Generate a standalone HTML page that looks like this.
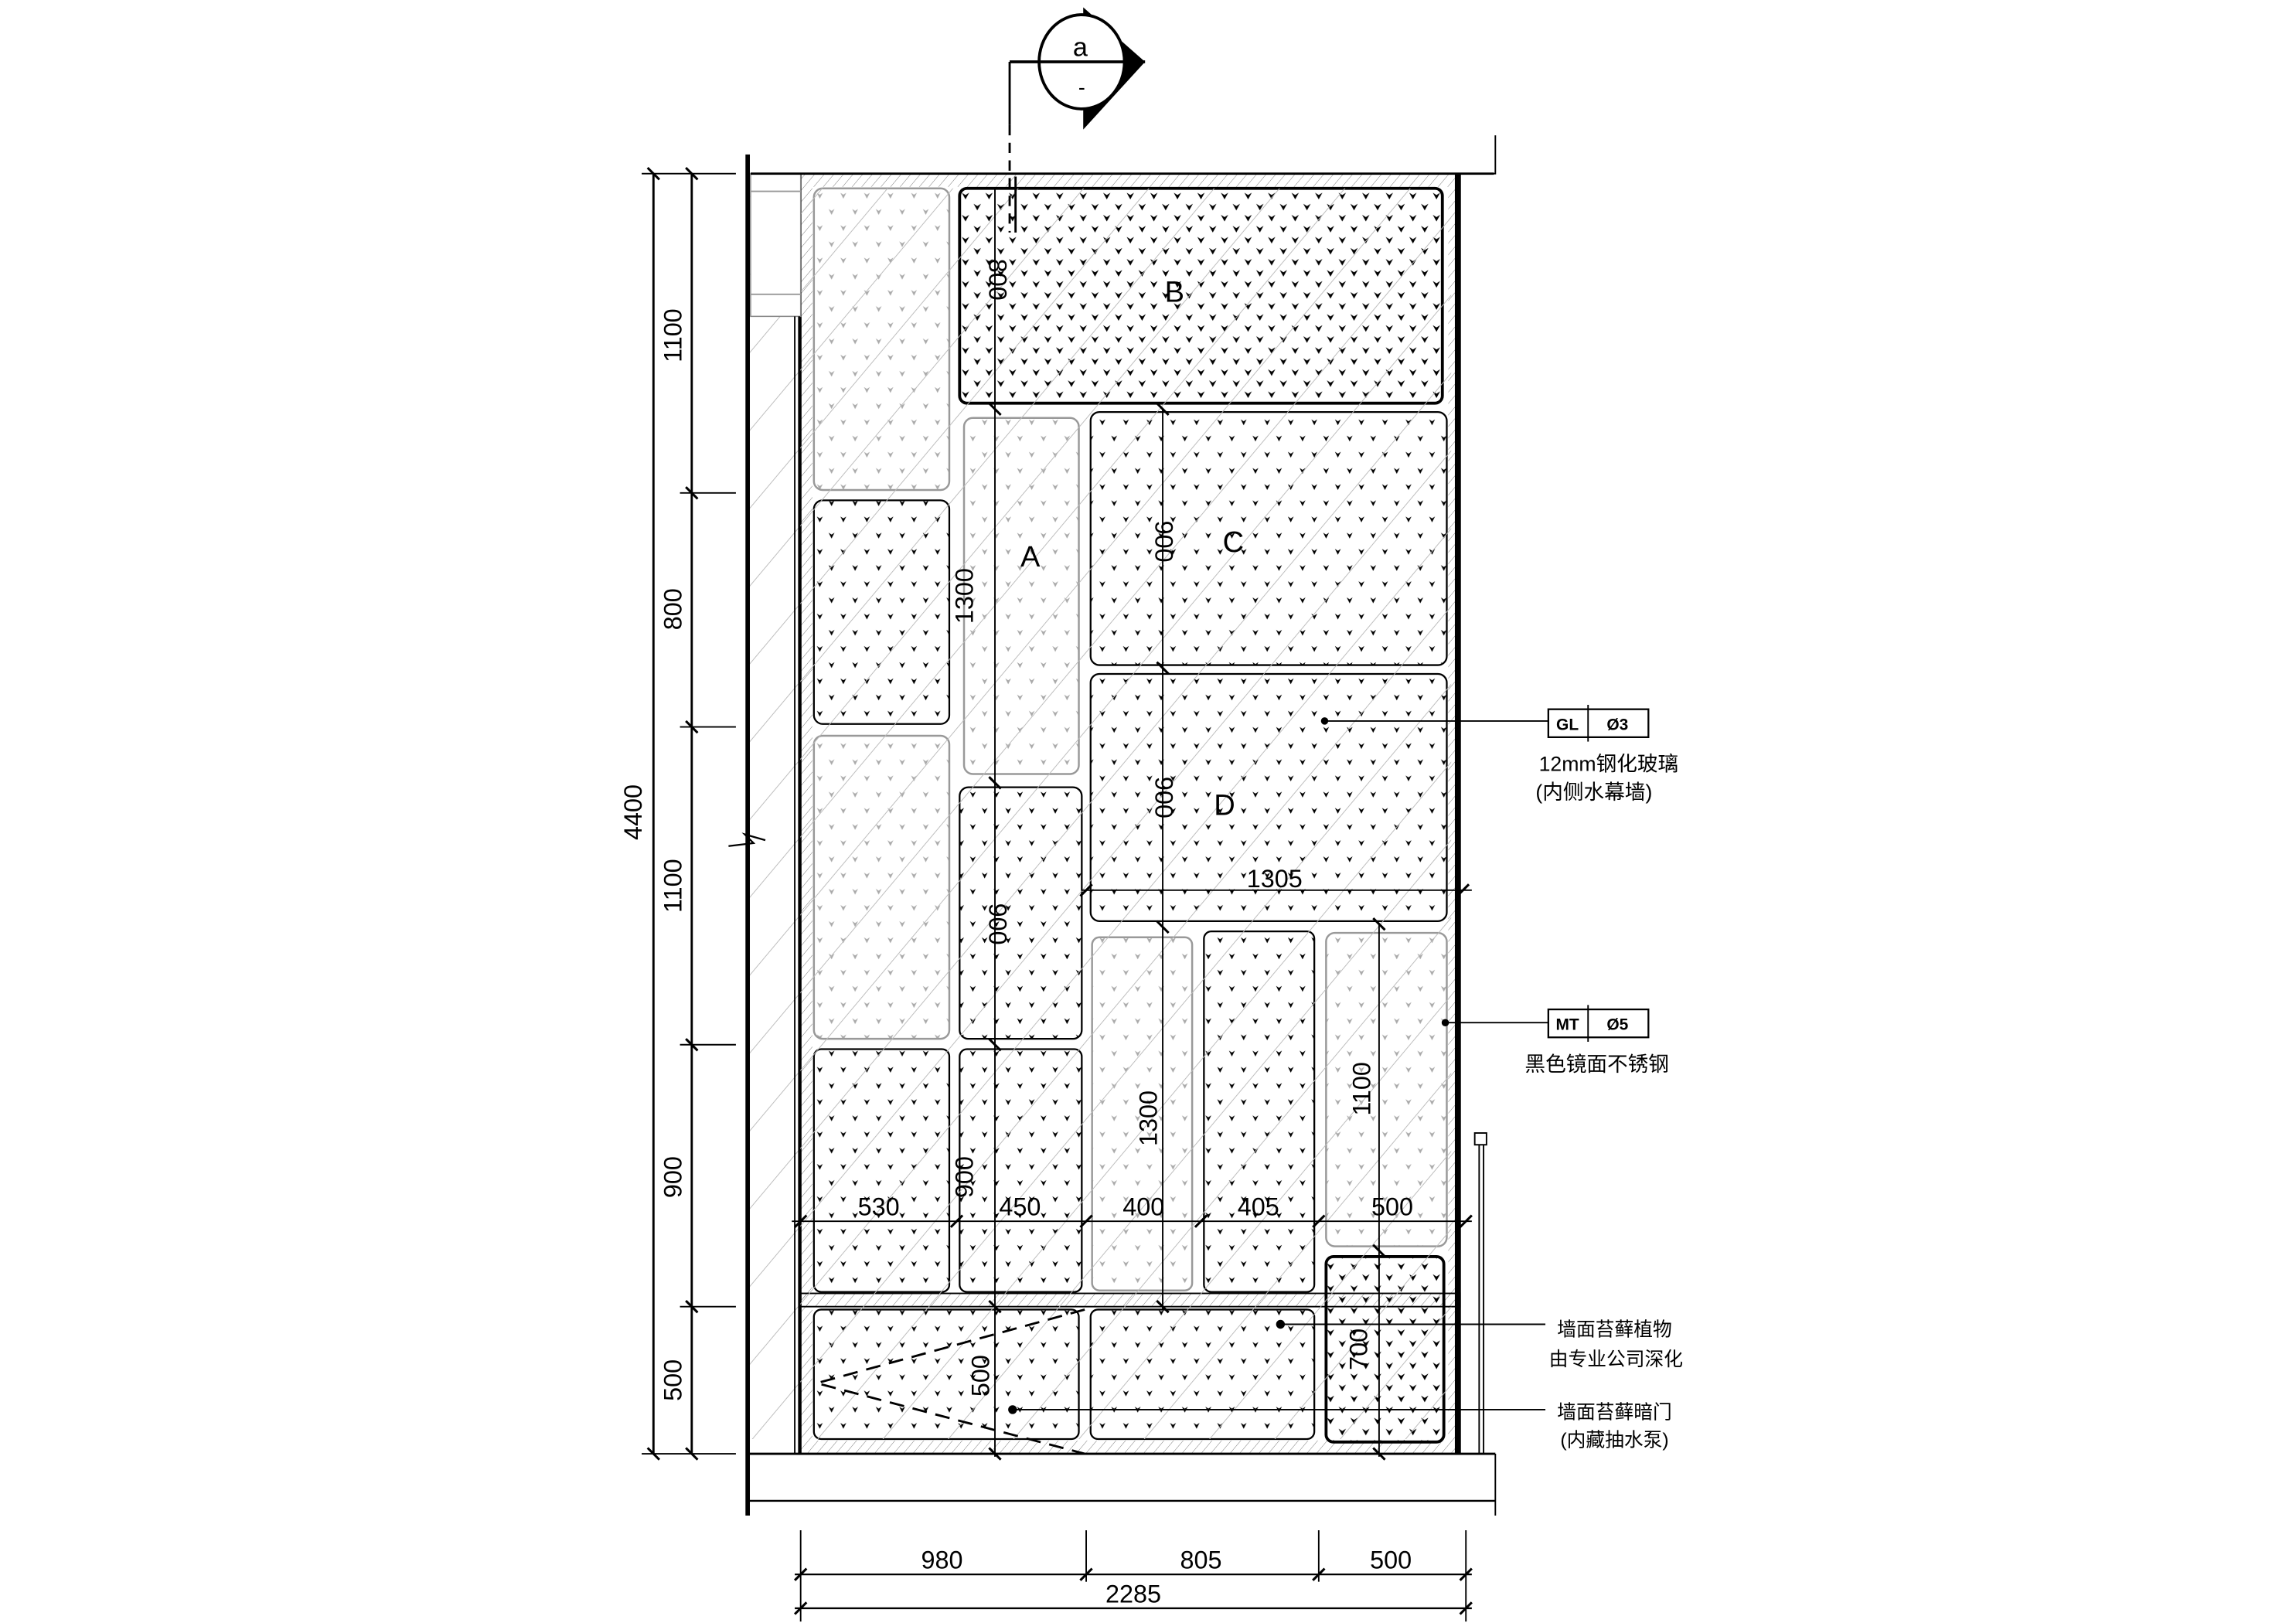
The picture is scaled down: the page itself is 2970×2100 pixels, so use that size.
<!DOCTYPE html>
<html><head><meta charset="utf-8"><style>
html,body{margin:0;padding:0;background:#fff;}
svg{display:block;}
text{font-family:"Liberation Sans","Noto Sans CJK SC",sans-serif;}
.d{font-size:17px;fill:#000;}
.c{font-family:"Liberation Serif","Noto Serif CJK SC",serif;font-size:14px;fill:#000;}
</style></head><body>
<svg width="2970" height="2100" viewBox="0 0 1560 1103" xmlns="http://www.w3.org/2000/svg">
<defs>
<pattern id="dk" width="16" height="22" patternUnits="userSpaceOnUse" x="553" y="128">
<path d="M2,3 l2,4 l2,-4 l-2,1.3z" fill="#000"/>
<path d="M10,14 l2,4 l2,-4 l-2,1.3z" fill="#000"/>
</pattern>
<pattern id="dk2" width="16" height="15" patternUnits="userSpaceOnUse" x="652" y="128">
<path d="M1.5,3 l2.5,4.5 l2.5,-4.5 l-2.5,1.5z" fill="#000"/>
<path d="M9.5,10.5 l2.5,4.5 l2.5,-4.5 l-2.5,1.5z" fill="#000"/>
</pattern>
<pattern id="lt" width="16" height="22" patternUnits="userSpaceOnUse" x="553" y="128">
<path d="M2,3 l2,4 l2,-4 l-2,1.3z" fill="#aaa"/>
<path d="M10,14 l2,4 l2,-4 l-2,1.3z" fill="#aaa"/>
</pattern>
<pattern id="hg" width="34" height="34" patternUnits="userSpaceOnUse" patternTransform="rotate(40)">
<line x1="0" y1="0" x2="0" y2="34" stroke="#bbb" stroke-width="1"/>
</pattern>
<pattern id="hb" width="5" height="5" patternUnits="userSpaceOnUse" patternTransform="rotate(40)">
<line x1="0" y1="0" x2="0" y2="5" stroke="#777" stroke-width="0.5"/>
</pattern>
</defs>

<rect x="544" y="118" width="448" height="870" fill="url(#hb)" stroke="#000" stroke-width="1.2"/>
<rect x="552" y="127" width="432" height="852" fill="#fff"/>
<rect x="544" y="879" width="448" height="9" fill="url(#hb)" stroke="#000" stroke-width="1"/>

<g stroke="#999" stroke-width="1.3">
<rect x="553" y="128" width="92" height="205" rx="6" fill="url(#lt)"/>
<rect x="553" y="500" width="92" height="206" rx="6" fill="url(#lt)"/>
<rect x="655" y="284" width="78" height="242" rx="6" fill="url(#lt)"/>
<rect x="742" y="637" width="68" height="240" rx="5" fill="url(#lt)"/>
<rect x="901" y="634" width="82" height="213" rx="6" fill="url(#lt)"/>
</g>
<g stroke="#000" stroke-width="1.2">
<rect x="553" y="340" width="92" height="152" rx="6" fill="url(#dk)"/>
<rect x="553" y="713" width="92" height="165" rx="5" fill="url(#dk)"/>
<rect x="652" y="128" width="328" height="146" rx="5" fill="url(#dk2)" stroke-width="2"/>
<rect x="652" y="535" width="83" height="171" rx="6" fill="url(#dk)"/>
<rect x="652" y="713" width="83" height="165" rx="5" fill="url(#dk)"/>
<rect x="741" y="280" width="242" height="172" rx="6" fill="url(#dk)"/>
<rect x="741" y="458" width="242" height="168" rx="6" fill="url(#dk)"/>
<rect x="818" y="633" width="75" height="245" rx="5" fill="url(#dk)"/>
<rect x="553" y="890" width="180" height="88" rx="5" fill="url(#dk)"/>
<rect x="741" y="890" width="152" height="88" rx="5" fill="url(#dk)"/>
<rect x="901" y="854" width="80" height="126" rx="5" fill="url(#dk2)" stroke-width="2"/>
</g>
<rect x="508" y="128" width="478" height="850" fill="url(#hg)"/>

<line x1="508" y1="105" x2="508" y2="1030" stroke="#000" stroke-width="3"/>
<rect x="510" y="118" width="34" height="97" fill="#fff" stroke="#888" stroke-width="0.8"/>
<line x1="510" y1="130" x2="544" y2="130" stroke="#999"/><line x1="510" y1="200" x2="544" y2="200" stroke="#999"/>
<line x1="540" y1="215" x2="540" y2="988" stroke="#000" stroke-width="1"/>
<line x1="543" y1="215" x2="543" y2="988" stroke="#000" stroke-width="1.5"/>
<path d="M495,575 L512,573 L506,567 L520,571" fill="none" stroke="#000" stroke-width="1.2"/>

<line x1="990" y1="118" x2="990" y2="988" stroke="#000" stroke-width="3"/>
<line x1="510" y1="118" x2="1015" y2="118" stroke="#000" stroke-width="1.5"/>
<path d="M1016,92 L1016,118 L1010,118" fill="none" stroke="#000" stroke-width="1"/>
<line x1="508" y1="988" x2="1016" y2="988" stroke="#000" stroke-width="1.5"/>
<line x1="508" y1="1020" x2="1016" y2="1020" stroke="#000" stroke-width="1.2"/>
<line x1="1016" y1="988" x2="1016" y2="1030" stroke="#000" stroke-width="1"/>

<path d="M737,890 L555,940 L737,988" fill="none" stroke="#000" stroke-width="1.5" stroke-dasharray="10,6"/>

<g stroke="#000" stroke-width="1">
<line x1="676" y1="128" x2="676" y2="990"/>
<line x1="790" y1="278" x2="790" y2="890"/>
<line x1="937" y1="628" x2="937" y2="990"/>
<line x1="538" y1="830" x2="1000" y2="830"/>
<line x1="735" y1="605" x2="1000" y2="605"/>
</g>
<g stroke="#000" stroke-width="1.6">
<path d="M540,834 l8,-8 M646,834 l8,-8 M734,834 l8,-8 M812,834 l8,-8 M892,834 l8,-8 M992,834 l8,-8"/>
<path d="M734,609 l8,-8 M990,609 l8,-8"/>
<path d="M672,274 l8,8 M672,528 l8,8 M672,706 l8,8 M672,884 l8,8 M672,984 l8,8"/>
<path d="M786,274 l8,8 M786,450 l8,8 M786,626 l8,8 M786,884 l8,8"/>
<path d="M933,624 l8,8 M933,846 l8,8 M933,984 l8,8"/>
</g>
<g class="d">
<text x="597" y="826" text-anchor="middle">530</text>
<text x="693" y="826" text-anchor="middle">450</text>
<text x="777" y="826" text-anchor="middle">400</text>
<text x="855" y="826" text-anchor="middle">405</text>
<text x="946" y="826" text-anchor="middle">500</text>
<text x="866" y="603" text-anchor="middle">1305</text>
<text transform="translate(672,190) rotate(90)" text-anchor="middle">800</text>
<text transform="translate(661,405) rotate(-90)" text-anchor="middle">1300</text>
<text transform="translate(672,628) rotate(90)" text-anchor="middle">900</text>
<text transform="translate(661,800) rotate(-90)" text-anchor="middle">900</text>
<text transform="translate(672,935) rotate(-90)" text-anchor="middle">500</text>
<text transform="translate(785,368) rotate(90)" text-anchor="middle">900</text>
<text transform="translate(785,542) rotate(90)" text-anchor="middle">900</text>
<text transform="translate(786,760) rotate(-90)" text-anchor="middle">1300</text>
<text transform="translate(931,740) rotate(-90)" text-anchor="middle">1100</text>
<text transform="translate(929,917) rotate(-90)" text-anchor="middle">700</text>
</g>
<g font-family="Liberation Serif,serif" font-size="20" fill="#000" text-anchor="middle">
<text x="700" y="385">A</text><text x="798" y="205">B</text><text x="838" y="375">C</text><text x="832" y="554">D</text>
</g>

<g stroke="#000">
<line x1="444" y1="118" x2="444" y2="988" stroke-width="1.5"/>
<line x1="470" y1="118" x2="470" y2="988" stroke-width="1.5"/>
<g stroke-width="1">
<line x1="436" y1="118" x2="500" y2="118"/><line x1="436" y1="988" x2="500" y2="988"/>
<line x1="462" y1="335" x2="500" y2="335"/><line x1="462" y1="494" x2="500" y2="494"/>
<line x1="462" y1="710" x2="500" y2="710"/><line x1="462" y1="888" x2="500" y2="888"/>
</g>
<path d="M440,114 l8,8 M466,114 l8,8 M466,331 l8,8 M466,490 l8,8 M466,706 l8,8 M466,884 l8,8 M466,984 l8,8 M440,984 l8,8" stroke-width="1.6"/>
</g>
<g class="d">
<text transform="translate(463,228) rotate(-90)" text-anchor="middle">1100</text>
<text transform="translate(463,414) rotate(-90)" text-anchor="middle">800</text>
<text transform="translate(463,602) rotate(-90)" text-anchor="middle">1100</text>
<text transform="translate(463,800) rotate(-90)" text-anchor="middle">900</text>
<text transform="translate(463,938) rotate(-90)" text-anchor="middle">500</text>
<text transform="translate(436,552) rotate(-90)" text-anchor="middle">4400</text>
</g>

<g stroke="#000">
<line x1="540" y1="1070" x2="1000" y2="1070" stroke-width="1.2"/>
<line x1="540" y1="1093" x2="1000" y2="1093" stroke-width="1.2"/>
<g stroke-width="1">
<line x1="544" y1="1040" x2="544" y2="1102"/><line x1="738" y1="1040" x2="738" y2="1075"/>
<line x1="896" y1="1040" x2="896" y2="1075"/><line x1="996" y1="1040" x2="996" y2="1102"/>
</g>
<path d="M540,1074 l8,-8 M734,1074 l8,-8 M892,1074 l8,-8 M992,1074 l8,-8 M540,1097 l8,-8 M992,1097 l8,-8" stroke-width="1.6"/>
</g>
<g class="d" text-anchor="middle">
<text x="640" y="1066">980</text><text x="816" y="1066">805</text><text x="945" y="1066">500</text><text x="770" y="1089">2285</text>
</g>

<!-- section symbol -->
<path d="M736,5 L778,42 L736,88 z" fill="#000"/>
<ellipse cx="735" cy="42" rx="29" ry="32" fill="#fff" stroke="#000" stroke-width="2"/>
<line x1="686" y1="42" x2="778" y2="42" stroke="#000" stroke-width="2"/>
<line x1="686" y1="42" x2="686" y2="85" stroke="#000" stroke-width="1.5"/>
<line x1="686" y1="85" x2="686" y2="158" stroke="#000" stroke-width="1.5" stroke-dasharray="7,5"/>
<line x1="690" y1="120" x2="690" y2="158" stroke="#000" stroke-width="1.5"/>
<text x="734" y="38" font-family="Liberation Serif,serif" font-size="18" text-anchor="middle">a</text>
<text x="735" y="64" font-family="Liberation Sans,sans-serif" font-size="14" text-anchor="middle">-</text>

<g stroke="#000" stroke-width="1">
<line x1="900" y1="490" x2="1052" y2="490"/><circle cx="900" cy="490" r="2" fill="#000"/>
<rect x="1052" y="482" width="68" height="19" fill="#fff" stroke-width="1.2"/><line x1="1079" y1="479" x2="1079" y2="504"/>
<line x1="982" y1="695" x2="1052" y2="695"/><circle cx="982" cy="695" r="2" fill="#000"/>
<rect x="1052" y="686" width="68" height="19" fill="#fff" stroke-width="1.2"/><line x1="1079" y1="683" x2="1079" y2="708"/>
<line x1="870" y1="900" x2="1050" y2="900"/><circle cx="870" cy="900" r="2.5" fill="#000"/>
<line x1="688" y1="958" x2="1050" y2="958"/><circle cx="688" cy="958" r="2.5" fill="#000"/>
<rect x="1002" y="770" width="8" height="8" fill="#fff"/>
<line x1="1005" y1="778" x2="1005" y2="988"/><line x1="1008" y1="778" x2="1008" y2="988"/>
</g>
<g font-family="Liberation Sans,sans-serif" font-weight="bold" font-size="11" text-anchor="middle">
<text x="1065" y="496">GL</text><text x="1099" y="496">Ø3</text>
<text x="1065" y="700">MT</text><text x="1099" y="700">Ø5</text>
</g>
<g class="c" text-anchor="middle">
<text x="1093" y="524">12mm钢化玻璃</text>
<text x="1083" y="543">(内侧水幕墙)</text>
<text x="1085" y="728">黑色镜面不锈钢</text>
<text x="1097" y="908" font-size="13">墙面苔藓植物</text>
<text x="1098" y="928" font-size="13">由专业公司深化</text>
<text x="1097" y="964" font-size="13">墙面苔藓暗门</text>
<text x="1097" y="983" font-size="13">(内藏抽水泵)</text>
</g>
</svg>
</body></html>
